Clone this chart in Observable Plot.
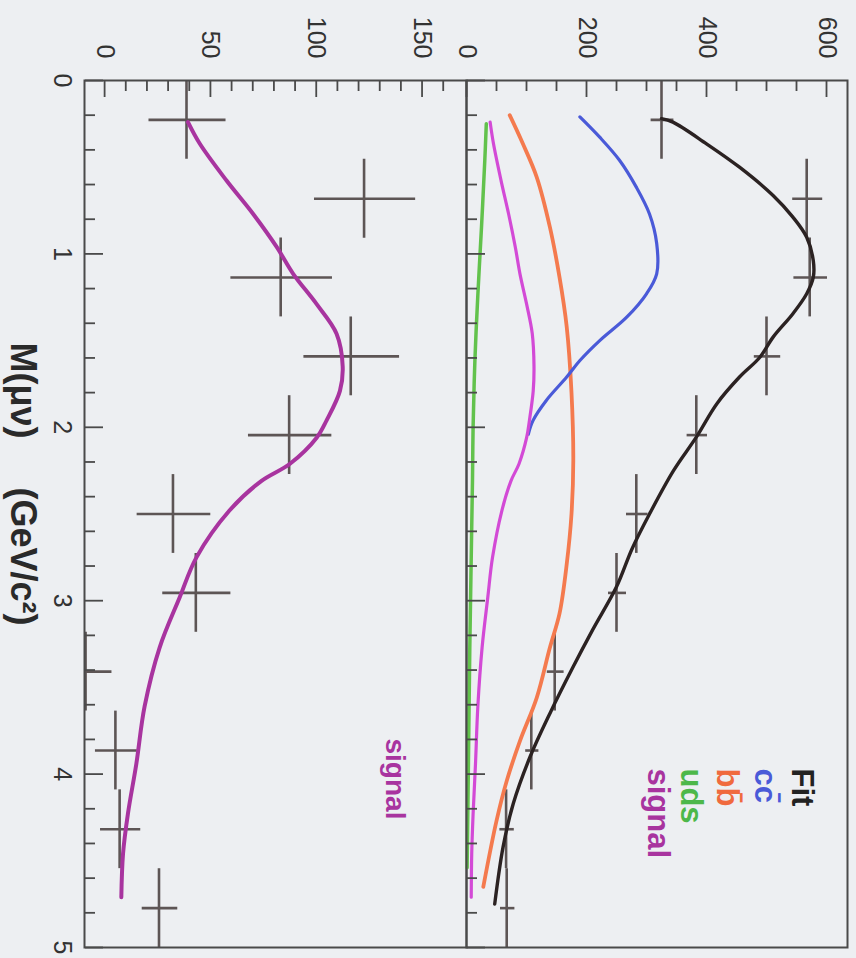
<!DOCTYPE html>
<html><head><meta charset="utf-8">
<script src="https://cdn.jsdelivr.net/npm/d3@7"></script>
<script src="https://cdn.jsdelivr.net/npm/@observablehq/plot@0.6"></script>
<style>
html,body{margin:0;padding:0;background:#edeff2;overflow:hidden;width:856px;height:958px;}
#rot{position:absolute;left:0;top:0;width:958px;height:856px;transform-origin:0 0;transform:translate(856px,0) rotate(90deg);}
#rot svg{position:absolute;left:0;top:0;}
</style></head><body><div id="rot"></div>
<script>
// ---- data (M in GeV/c^2) ----
const binCenters = [0.227, 0.682, 1.136, 1.591, 2.045, 2.5, 2.955, 3.409, 3.864, 4.318, 4.773];
const binWidth = 5 / 11;
const totalCounts = [325, 567, 572, 500, 383, 283, 250, 147, 108, 66, 67];
const totalErrors = [19, 25, 28, 22, 17, 18, 15, 14, 11, 12, 12];
const signalCounts = [38.7, 122.6, 83.2, 116.3, 87.2, 32.3, 43.1, -9, 5.1, 7.1, 25.7];
const signalErrors = [18.2, 23.9, 24, 22.6, 19.7, 17.4, 16.1, 12, 9.9, 9.5, 8.4];

const fitM = [0.22, 0.24, 0.365, 0.50, 0.663, 0.788, 0.904, 1.04, 1.134, 1.23, 1.345, 1.48, 1.596, 1.71, 1.865, 2.057, 2.25, 2.5, 2.7, 2.92, 3.17, 3.38, 3.65, 3.9, 4.17, 4.42, 4.75];
const fitV = [325, 344, 400, 455, 511, 544, 567, 578, 578, 567, 544, 511, 489, 455, 417, 383, 345, 305, 276, 250, 210, 178, 139, 106, 78, 61, 47];
const ccM = [0.21, 0.327, 0.46, 0.615, 0.77, 0.94, 1.115, 1.23, 1.365, 1.5, 1.615, 1.71, 1.845, 1.96, 2.04];
const ccV = [189, 222, 255, 283, 305, 317, 317, 300, 267, 222, 189, 167, 133, 111, 103];
const bbM = [0.2, 0.365, 0.557, 0.846, 1.134, 1.42, 1.8, 2.19, 2.5, 2.79, 3.075, 3.27, 3.56, 3.81, 4.04, 4.27, 4.65];
const bbV = [72, 94, 117, 139, 155, 167, 175, 178, 175, 167, 155, 139, 117, 89, 67, 50, 28];
const udsM = [0.25, 0.46, 0.846, 1.23, 1.615, 2.0, 2.3, 3.27, 4.0, 4.54];
const udsV = [33, 30.5, 25, 19, 14, 11, 10, 5.5, 3, 1];
const sigM = [0.24, 0.365, 0.577, 0.77, 0.96, 1.115, 1.29, 1.46, 1.65, 1.79, 1.96, 2.06, 2.21, 2.31, 2.48, 2.75, 2.98, 3.27, 3.61, 3.94, 4.23, 4.46, 4.71];
const sigV = [39.4, 45, 57.6, 70.2, 81.3, 89.1, 100.2, 109.6, 112.5, 111.2, 104.9, 100.2, 87.6, 74, 59, 43.4, 35.5, 26, 18.9, 15, 11, 8.7, 7.9];

const xMajorTicks = [0, 1, 2, 3, 4, 5];
const xMinorTicks = [0.2,0.4,0.6,0.8,1.2,1.4,1.6,1.8,2.2,2.4,2.6,2.8,3.2,3.4,3.6,3.8,4.2,4.4,4.6,4.8];
const topMajorTicks = [0, 200, 400, 600];
const topMinorTicks = [50, 100, 150, 250, 300, 350, 450, 500, 550];
const botMajorTicks = [0, 50, 100, 150];
const botMinorTicks = [10, 20, 30, 40, 60, 70, 80, 90, 110, 120, 130, 140, 160];
const legendLabels = ["Fit", "cc\u0304", "bb\u0304", "uds", "signal"];
const panelLabel = "signal";
const axisTitleParts = ["M(\u03bc\u03bd)", "(GeV/c\u00b2)"];

// ---- styles ----
const C = {frame:"#4a4a4a", cross:"#5d5555", fit:"#2b2222", cc:"#4a5ad8", bb:"#f47a4e", uds:"#62c24c", sigTop:"#d34ad6", sigBot:"#a8349f", text:"#333"};
const legendColors = ["#222", "#4a5ad8", "#f06a3e", "#4db84a", "#a8349f"];
const legendDy = [56, 93, 131, 167, 200];
const font = "'Liberation Sans', Arial, sans-serif";
const W = 958, H = 856;

const pts = (V, E) => binCenters.map((m, i) => ({m, v: V[i], e: E[i]}));
const pairs = (M, V) => M.map((m, i) => [m, V[i]]);

function crosses(V, E) {
  const d = pts(V, E);
  return [
    Plot.ruleX(d, {x: "m", y1: p => p.v - p.e, y2: p => p.v + p.e, stroke: C.cross, strokeWidth: 2.6, clip: true}),
    Plot.ruleY(d, {y: "v", x1: p => p.m - binWidth / 2, x2: p => p.m + binWidth / 2, stroke: C.cross, strokeWidth: 2.6, clip: true})
  ];
}
function yTicks(major, minor) {
  return [
    Plot.axisY(minor, {anchor: "left", tickSize: -11, stroke: C.frame, strokeWidth: 1.8, fill: "none"}),
    Plot.axisY(major, {anchor: "left", tickSize: -17, stroke: C.frame, strokeWidth: 1.8, fill: "none"}),
    Plot.axisY(major, {anchor: "left", tickSize: 0, tickPadding: 22, fill: C.text, fontSize: 25, label: null, tickFormat: d => String(d)})
  ];
}
function xTicks(withLabels) {
  const m = [
    Plot.axisX(xMinorTicks, {anchor: "bottom", tickSize: -10, stroke: C.frame, strokeWidth: 1.8, fill: "none"}),
    Plot.axisX(xMajorTicks, {anchor: "bottom", tickSize: -18, stroke: C.frame, strokeWidth: 1.8, fill: "none"})
  ];
  if (withLabels) m.push(Plot.axisX(xMajorTicks, {anchor: "bottom", tickSize: 0, tickPadding: 13, fill: C.text, fontSize: 25, label: null, tickFormat: d => String(d)}));
  return m;
}

const topPlot = Plot.plot({
  width: W, height: H, marginTop: 8, marginBottom: 467, marginLeft: 80, marginRight: 11,
  style: {background: "transparent", fontFamily: font, overflow: "visible"},
  x: {domain: [0, 5], axis: null},
  y: {domain: [0, 635], axis: null},
  marks: [
    ...crosses(totalCounts, totalErrors),
    Plot.line(pairs(udsM, udsV), {stroke: C.uds, strokeWidth: 3.5, curve: "catmull-rom"}),
    Plot.line(pairs(bbM, bbV), {stroke: C.bb, strokeWidth: 3.8, curve: "catmull-rom"}),
    Plot.line(pairs(ccM, ccV), {stroke: C.cc, strokeWidth: 3.2, curve: "catmull-rom"}),
    Plot.line(pairs(sigM, sigV), {stroke: C.sigTop, strokeWidth: 3.2, curve: "catmull-rom"}),
    Plot.line(pairs(fitM, fitV), {stroke: C.fit, strokeWidth: 3.4, curve: "catmull-rom"}),
    ...legendLabels.map((t, i) => Plot.text([t], {text: d => d, frameAnchor: "top-left", dx: 688, dy: legendDy[i], textAnchor: "start", lineAnchor: "bottom", fill: legendColors[i], fontSize: 31, fontWeight: "bold"})),
    Plot.frame({stroke: C.frame, strokeWidth: 2}),
    ...yTicks(topMajorTicks, topMinorTicks),
    ...xTicks(false)
  ]
});

const botPlot = Plot.plot({
  width: W, height: H, marginTop: 389, marginBottom: 85, marginLeft: 80, marginRight: 11,
  style: {background: "transparent", fontFamily: font, overflow: "visible"},
  x: {domain: [0, 5], axis: null},
  y: {domain: [-9.5, 171], axis: null},
  marks: [
    ...crosses(signalCounts, signalErrors),
    Plot.line(pairs(sigM, sigV), {stroke: C.sigBot, strokeWidth: 4, curve: "catmull-rom"}),
    Plot.text([panelLabel], {text: d => d, frameAnchor: "top-left", dx: 658, dy: 81, textAnchor: "start", lineAnchor: "bottom", fill: C.sigBot, fontSize: 28, fontWeight: "bold"}),
    Plot.frame({stroke: C.frame, strokeWidth: 2}),
    ...yTicks(botMajorTicks, botMinorTicks),
    ...xTicks(true),
    Plot.text([axisTitleParts[0]], {text: d => d, frameAnchor: "bottom-left", dx: 310, dy: 74, textAnchor: "middle", lineAnchor: "bottom", fill: "#2a2a2a", fontSize: 36, fontWeight: "bold"}),
    Plot.text([axisTitleParts[1]], {text: d => d, frameAnchor: "bottom-left", dx: 476, dy: 74, textAnchor: "middle", lineAnchor: "bottom", fill: "#2a2a2a", fontSize: 36, fontWeight: "bold"})
  ]
});

const host = document.getElementById("rot");
host.appendChild(botPlot);
host.appendChild(topPlot);
</script></body></html>
